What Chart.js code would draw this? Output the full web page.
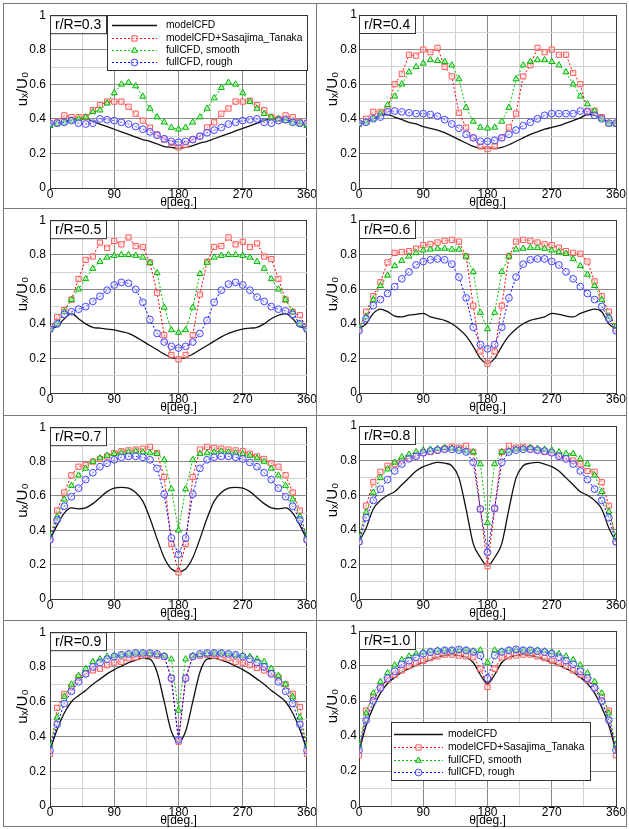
<!DOCTYPE html>
<html><head><meta charset="utf-8">
<script src="https://cdn.jsdelivr.net/npm/chart.js@4.4.1/dist/chart.umd.min.js"></script>
<style>
html,body{margin:0;padding:0;background:#fff;}
body{width:629px;height:829px;position:relative;overflow:hidden;}
.ln{position:absolute;background:#7a7a7a;}
canvas{position:absolute;}
</style></head><body>
<div class="ln" style="left:3px;top:3px;width:624px;height:1px"></div>
<div class="ln" style="left:3px;top:826px;width:624px;height:1px"></div>
<div class="ln" style="left:3px;top:3px;width:1px;height:824px"></div>
<div class="ln" style="left:626px;top:3px;width:1px;height:824px"></div>
<div class="ln" style="left:316px;top:3px;width:1px;height:824px"></div>
<div class="ln" style="left:3px;top:208px;width:624px;height:1px"></div>
<div class="ln" style="left:3px;top:415px;width:624px;height:1px"></div>
<div class="ln" style="left:3px;top:620px;width:624px;height:1px"></div>
<script>
// ---------- DATA ----------
const theta = [0,10,20,30,40,50,60,70,80,90,100,110,120,130,140,150,160,170,180,190,200,210,220,230,240,250,260,270,280,290,300,310,320,330,340,350,360];
const xTickLabels = [0,90,180,270,360];
const yTickLabels = [0,0.2,0.4,0.6,0.8,1];
const seriesNames = ['modelCFD','modelCFD+Sasajima_Tanaka','fullCFD, smooth','fullCFD, rough'];
const panelLabels = ['r/R=0.3','r/R=0.4','r/R=0.5','r/R=0.6','r/R=0.7','r/R=0.8','r/R=0.9','r/R=1.0'];

const model03 = [0.37,0.375,0.385,0.395,0.40,0.40,0.385,0.37,0.355,0.34,0.325,0.31,0.295,0.28,0.27,0.255,0.24,0.235,0.23,0.235,0.245,0.26,0.27,0.285,0.30,0.315,0.33,0.345,0.36,0.375,0.39,0.40,0.40,0.395,0.385,0.375,0.37];
const st03 = [0.37,0.38,0.42,0.41,0.41,0.41,0.45,0.48,0.50,0.50,0.50,0.47,0.43,0.39,0.35,0.31,0.28,0.26,0.235,0.25,0.28,0.30,0.35,0.38,0.43,0.46,0.50,0.50,0.505,0.48,0.45,0.41,0.40,0.42,0.41,0.38,0.37];
const smooth03 = [0.36,0.37,0.38,0.39,0.40,0.41,0.44,0.45,0.49,0.55,0.60,0.61,0.59,0.53,0.46,0.41,0.38,0.35,0.34,0.35,0.38,0.41,0.46,0.52,0.58,0.61,0.60,0.55,0.50,0.46,0.43,0.41,0.40,0.39,0.38,0.37,0.36];
const rough03 = [0.375,0.375,0.38,0.39,0.375,0.37,0.375,0.40,0.395,0.39,0.38,0.37,0.355,0.34,0.325,0.305,0.285,0.27,0.265,0.27,0.28,0.30,0.32,0.335,0.35,0.37,0.38,0.39,0.395,0.40,0.38,0.375,0.39,0.395,0.38,0.375,0.375];

const model04 = [0.37,0.38,0.40,0.42,0.425,0.41,0.395,0.38,0.37,0.355,0.345,0.335,0.32,0.30,0.28,0.26,0.24,0.23,0.23,0.23,0.235,0.25,0.27,0.29,0.31,0.325,0.34,0.35,0.36,0.375,0.39,0.405,0.425,0.42,0.40,0.38,0.37];
const st04 = [0.37,0.40,0.44,0.44,0.455,0.60,0.66,0.77,0.765,0.80,0.785,0.81,0.70,0.645,0.435,0.35,0.29,0.24,0.225,0.24,0.29,0.35,0.43,0.645,0.71,0.81,0.785,0.80,0.77,0.77,0.665,0.60,0.445,0.445,0.41,0.375,0.37];
const smooth04 = [0.37,0.38,0.40,0.43,0.48,0.53,0.60,0.67,0.70,0.72,0.74,0.735,0.73,0.71,0.63,0.465,0.385,0.35,0.345,0.35,0.385,0.465,0.63,0.71,0.73,0.74,0.74,0.73,0.71,0.67,0.60,0.53,0.485,0.445,0.40,0.37,0.37];
const rough04 = [0.375,0.38,0.40,0.41,0.44,0.445,0.44,0.435,0.43,0.43,0.425,0.415,0.395,0.37,0.345,0.31,0.29,0.27,0.27,0.275,0.29,0.31,0.335,0.36,0.38,0.40,0.42,0.43,0.43,0.43,0.43,0.445,0.44,0.42,0.40,0.375,0.375];

const model05 = [0.37,0.385,0.43,0.46,0.43,0.40,0.38,0.375,0.37,0.365,0.355,0.345,0.325,0.30,0.275,0.25,0.225,0.205,0.20,0.205,0.225,0.25,0.275,0.30,0.325,0.345,0.36,0.37,0.375,0.38,0.40,0.43,0.45,0.46,0.43,0.385,0.37];
const st05 = [0.37,0.44,0.48,0.54,0.66,0.77,0.79,0.87,0.84,0.88,0.86,0.90,0.85,0.845,0.755,0.58,0.335,0.22,0.195,0.22,0.335,0.57,0.76,0.845,0.85,0.90,0.86,0.875,0.845,0.865,0.79,0.775,0.66,0.54,0.47,0.45,0.37];
const smooth05 = [0.37,0.40,0.47,0.54,0.60,0.66,0.72,0.76,0.785,0.795,0.80,0.80,0.795,0.785,0.755,0.695,0.495,0.365,0.35,0.365,0.495,0.69,0.755,0.785,0.795,0.80,0.80,0.795,0.785,0.76,0.72,0.66,0.60,0.54,0.47,0.40,0.37];
const rough05 = [0.37,0.40,0.455,0.47,0.485,0.50,0.53,0.56,0.595,0.625,0.64,0.635,0.60,0.525,0.425,0.345,0.295,0.27,0.26,0.27,0.295,0.345,0.42,0.525,0.595,0.63,0.64,0.625,0.595,0.555,0.53,0.50,0.485,0.475,0.455,0.40,0.37];

const model06 = [0.37,0.40,0.46,0.485,0.47,0.445,0.44,0.45,0.455,0.46,0.44,0.43,0.42,0.40,0.37,0.33,0.27,0.20,0.17,0.20,0.27,0.33,0.37,0.40,0.42,0.43,0.44,0.46,0.455,0.445,0.44,0.46,0.475,0.485,0.47,0.40,0.37];
const st06 = [0.37,0.47,0.56,0.64,0.755,0.81,0.815,0.82,0.835,0.855,0.86,0.87,0.88,0.885,0.875,0.79,0.505,0.24,0.17,0.24,0.505,0.79,0.875,0.885,0.88,0.87,0.86,0.855,0.84,0.82,0.81,0.805,0.76,0.645,0.56,0.47,0.37];
const smooth06 = [0.38,0.44,0.54,0.62,0.68,0.735,0.765,0.79,0.81,0.825,0.83,0.835,0.835,0.83,0.83,0.79,0.70,0.465,0.37,0.465,0.70,0.79,0.83,0.835,0.84,0.84,0.835,0.825,0.815,0.805,0.775,0.735,0.685,0.62,0.54,0.44,0.385];
const rough06 = [0.36,0.43,0.505,0.54,0.575,0.615,0.66,0.70,0.74,0.76,0.77,0.775,0.77,0.745,0.67,0.55,0.38,0.28,0.255,0.28,0.38,0.55,0.67,0.745,0.77,0.775,0.775,0.76,0.74,0.70,0.66,0.615,0.575,0.54,0.50,0.43,0.36];

const model07 = [0.345,0.43,0.50,0.53,0.525,0.53,0.555,0.59,0.625,0.645,0.65,0.645,0.62,0.57,0.47,0.35,0.24,0.175,0.16,0.175,0.24,0.35,0.47,0.57,0.62,0.645,0.65,0.645,0.625,0.59,0.555,0.53,0.525,0.53,0.50,0.43,0.345];
const st07 = [0.345,0.515,0.62,0.72,0.77,0.78,0.80,0.815,0.83,0.85,0.86,0.865,0.87,0.875,0.885,0.85,0.71,0.32,0.155,0.32,0.71,0.87,0.885,0.88,0.875,0.87,0.865,0.86,0.845,0.83,0.815,0.79,0.77,0.72,0.62,0.515,0.345];
const smooth07 = [0.37,0.48,0.58,0.66,0.72,0.76,0.80,0.82,0.835,0.845,0.85,0.855,0.86,0.855,0.85,0.845,0.81,0.64,0.40,0.64,0.81,0.845,0.85,0.855,0.86,0.855,0.85,0.845,0.835,0.82,0.80,0.76,0.72,0.66,0.58,0.48,0.37];
const rough07 = [0.345,0.46,0.54,0.595,0.645,0.695,0.735,0.77,0.79,0.81,0.825,0.83,0.83,0.825,0.81,0.76,0.61,0.355,0.26,0.355,0.61,0.76,0.81,0.825,0.83,0.83,0.825,0.815,0.795,0.77,0.735,0.695,0.645,0.595,0.54,0.46,0.345];

const model08 = [0.33,0.41,0.52,0.57,0.60,0.62,0.66,0.70,0.74,0.765,0.78,0.79,0.785,0.77,0.70,0.52,0.32,0.24,0.19,0.24,0.32,0.52,0.70,0.77,0.785,0.79,0.78,0.765,0.74,0.70,0.66,0.62,0.60,0.57,0.52,0.41,0.33];
const st08 = [0.33,0.54,0.675,0.735,0.77,0.78,0.80,0.815,0.83,0.845,0.85,0.86,0.87,0.88,0.875,0.885,0.85,0.52,0.19,0.52,0.85,0.885,0.875,0.88,0.87,0.86,0.85,0.845,0.83,0.815,0.80,0.78,0.74,0.735,0.675,0.54,0.33];
const smooth08 = [0.36,0.50,0.615,0.70,0.75,0.79,0.82,0.835,0.85,0.86,0.865,0.87,0.875,0.87,0.865,0.855,0.85,0.78,0.44,0.78,0.85,0.855,0.865,0.87,0.875,0.87,0.865,0.86,0.85,0.84,0.84,0.81,0.78,0.715,0.62,0.505,0.36];
const rough08 = [0.33,0.47,0.57,0.635,0.69,0.74,0.78,0.81,0.825,0.845,0.855,0.86,0.865,0.865,0.86,0.85,0.79,0.52,0.27,0.525,0.79,0.85,0.86,0.865,0.865,0.86,0.855,0.845,0.825,0.81,0.78,0.74,0.69,0.635,0.57,0.47,0.33];

const model09 = [0.32,0.44,0.535,0.60,0.635,0.665,0.70,0.73,0.76,0.785,0.805,0.825,0.84,0.85,0.845,0.77,0.60,0.43,0.37,0.43,0.60,0.77,0.845,0.85,0.84,0.825,0.805,0.785,0.76,0.73,0.70,0.665,0.635,0.60,0.535,0.44,0.32];
const st09 = [0.30,0.565,0.645,0.685,0.74,0.76,0.78,0.79,0.81,0.825,0.83,0.85,0.855,0.865,0.87,0.865,0.86,0.735,0.37,0.735,0.86,0.865,0.87,0.865,0.855,0.85,0.83,0.825,0.81,0.795,0.78,0.765,0.74,0.70,0.645,0.57,0.30];
const smooth09 = [0.35,0.51,0.63,0.70,0.75,0.79,0.83,0.845,0.86,0.865,0.87,0.875,0.88,0.88,0.875,0.87,0.865,0.845,0.55,0.845,0.865,0.87,0.875,0.88,0.88,0.875,0.87,0.865,0.86,0.845,0.83,0.79,0.75,0.70,0.63,0.51,0.35];
const rough09 = [0.32,0.47,0.59,0.66,0.715,0.76,0.80,0.825,0.845,0.86,0.87,0.875,0.88,0.88,0.88,0.875,0.86,0.735,0.38,0.735,0.86,0.875,0.88,0.88,0.88,0.875,0.87,0.86,0.845,0.825,0.80,0.76,0.715,0.66,0.59,0.47,0.32];

const model10 = [0.31,0.46,0.565,0.645,0.70,0.735,0.765,0.785,0.805,0.82,0.835,0.85,0.86,0.865,0.86,0.85,0.82,0.75,0.70,0.75,0.82,0.85,0.86,0.865,0.86,0.85,0.835,0.82,0.805,0.785,0.765,0.735,0.70,0.645,0.565,0.46,0.31];
const st10 = [0.29,0.545,0.625,0.675,0.72,0.75,0.775,0.80,0.815,0.83,0.845,0.855,0.865,0.865,0.86,0.855,0.85,0.785,0.68,0.785,0.85,0.855,0.86,0.865,0.865,0.855,0.845,0.83,0.815,0.80,0.775,0.75,0.72,0.675,0.625,0.545,0.29];
const smooth10 = [0.35,0.53,0.645,0.71,0.76,0.805,0.835,0.855,0.87,0.88,0.885,0.89,0.89,0.89,0.89,0.89,0.885,0.89,0.82,0.89,0.885,0.89,0.89,0.89,0.89,0.89,0.885,0.88,0.87,0.855,0.835,0.805,0.76,0.71,0.645,0.53,0.35];
const rough10 = [0.32,0.49,0.60,0.675,0.73,0.77,0.81,0.83,0.85,0.87,0.88,0.885,0.89,0.89,0.895,0.89,0.88,0.86,0.73,0.86,0.88,0.89,0.895,0.89,0.89,0.885,0.88,0.87,0.85,0.83,0.81,0.77,0.73,0.675,0.60,0.49,0.32];

// ---------- STYLE / LAYOUT ----------
const FONT = '"Liberation Sans", Arial, Helvetica, sans-serif';
Chart.defaults.font.family = FONT;
Chart.defaults.color = '#000';

const STYLES = [
  {color:'#111111', width:1.3, dash:[], style:false},
  {color:'#ff0000', width:1, dash:[2,2], style:'rect', r:3.7, mStroke:'#ff5a5a', mFill:'rgba(255,230,230,0.5)'},
  {color:'#00c800', width:1, dash:[2,2], style:'triangle', r:3.5, mStroke:'#00b400', mFill:'rgba(180,255,180,0.6)'},
  {color:'#0000ff', width:1, dash:[2,2], style:'circle', r:3.4, mStroke:'#4848ff', mFill:'rgba(225,225,255,0.4)'}
];

const COLS = [{L:4,W:312,pl:50,pr:307,tickPad:4,titlePad:10},{L:317,W:310,pl:359,pr:616,tickPad:2,titlePad:7}];
const ROWS = [{T:4,pt:15,pb:188},{T:209,pt:220,pb:393},{T:416,pt:426,pb:599},{T:621,pt:631,pb:806}];
const XH = 22;

const panels = [
  {label:panelLabels[0], data:[model03,st03,smooth03,rough03], col:0,row:0, legend:'top'},
  {label:panelLabels[1], data:[model04,st04,smooth04,rough04], col:1,row:0},
  {label:panelLabels[2], data:[model05,st05,smooth05,rough05], col:0,row:1},
  {label:panelLabels[3], data:[model06,st06,smooth06,rough06], col:1,row:1},
  {label:panelLabels[4], data:[model07,st07,smooth07,rough07], col:0,row:2},
  {label:panelLabels[5], data:[model08,st08,smooth08,rough08], col:1,row:2},
  {label:panelLabels[6], data:[model09,st09,smooth09,rough09], col:0,row:3},
  {label:panelLabels[7], data:[model10,st10,smooth10,rough10], col:1,row:3, legend:'bottom'}
];

function marker(ctx, st, x, y){
  ctx.save();
  ctx.setLineDash([]);
  ctx.lineWidth = 1;
  ctx.strokeStyle = st.mStroke; ctx.fillStyle = st.mFill;
  ctx.beginPath();
  const r = st.r;
  if (st.style==='rect'){ const s = r*Math.SQRT1_2; ctx.rect(x-s,y-s,2*s,2*s); }
  else if (st.style==='triangle'){ ctx.moveTo(x, y-r); ctx.lineTo(x+0.866*r, y+0.5*r); ctx.lineTo(x-0.866*r, y+0.5*r); ctx.closePath(); }
  else { ctx.arc(x,y,r,0,Math.PI*2); }
  ctx.fill(); ctx.stroke();
  ctx.restore();
}

const deco = {
  id:'deco',
  afterDatasetsDraw(chart, args, opts){
    const {ctx, chartArea:a} = chart;
    ctx.save();
    ctx.fillStyle='#fff';
    ctx.fillRect(a.left+1, a.top+1, 55, 17);
    ctx.strokeStyle='#333'; ctx.lineWidth=1; ctx.setLineDash([]);
    ctx.strokeRect(a.left+0.5, a.top+0.5, 56, 18);
    ctx.fillStyle='#000'; ctx.textBaseline='middle'; ctx.textAlign='left';
    ctx.font = '14px '+FONT;
    ctx.fillText(opts.label, a.left+5, a.top+10);
    if (opts.legend){
      let b;
      if (opts.legend==='top') b = {x:a.right-200, y:a.top, w:200, h:55, rows:[10,22.5,35,47], l0:5, l1:50, tx:59};
      else b = {x:a.left+32, y:a.top+91, w:199, h:58, rows:[12,24.7,38,49.7], l0:3, l1:52, tx:57};
      ctx.fillStyle='#fff';
      ctx.fillRect(b.x, b.y, b.w, b.h);
      ctx.strokeStyle='#333';
      ctx.strokeRect(Math.round(b.x)+0.5, Math.round(b.y)+0.5, b.w, b.h);
      ctx.font = '10.3px '+FONT;
      for (let i=0;i<4;i++){
        const st = STYLES[i];
        const yy = Math.round(b.y + b.rows[i]) + 0.5;
        ctx.save();
        ctx.strokeStyle = st.color; ctx.lineWidth = st.width; ctx.setLineDash(st.dash);
        ctx.beginPath(); ctx.moveTo(b.x+b.l0, yy); ctx.lineTo(b.x+b.l1, yy); ctx.stroke();
        ctx.restore();
        if (st.style) marker(ctx, st, b.x+(b.l0+b.l1)/2, yy);
        ctx.fillStyle='#000';
        ctx.fillText(seriesNames[i], b.x+b.tx, yy);
      }
    }
    ctx.restore();
  }
};

function gridCol(isEdge, isMajor){ return isEdge ? '#3a3a3a' : (isMajor ? '#8a8a8a' : '#d2d2d2'); }

panels.forEach(p=>{
  const col = COLS[p.col], row = ROWS[p.row];
  const H = row.pb + XH - row.T;
  const cv = document.createElement('canvas');
  cv.width = col.W; cv.height = H;
  cv.style.left = col.L+'px'; cv.style.top = row.T+'px';
  cv.style.width = col.W+'px'; cv.style.height = H+'px';
  document.body.appendChild(cv);
  const datasets = p.data.map((ys,i)=>{
    const st = STYLES[i];
    return {
      label: seriesNames[i],
      data: ys.map((y,k)=>({x:theta[k], y:y})),
      borderColor: st.color, borderWidth: st.width, borderDash: st.dash,
      pointRadius: st.style ? st.r : 0,
      pointStyle: st.style || 'circle',
      pointBorderColor: st.mStroke, pointBackgroundColor: st.mFill, pointBorderWidth: 1,
      cubicInterpolationMode: i===0 ? 'monotone' : 'default',
      fill:false, order: 3-i
    };
  });
  new Chart(cv, {
    type:'line',
    data:{datasets},
    options:{
      responsive:false, animation:false, devicePixelRatio:1,
      events:[],
      layout:{padding:{left:0, right: col.L+col.W-col.pr, top: row.pt-row.T, bottom:0}},
      plugins:{legend:{display:false}, tooltip:{enabled:false}, deco:{label:p.label, legend:p.legend||null}},
      scales:{
        x:{type:'linear', min:0, max:360,
           ticks:{stepSize:45, autoSkip:false, maxRotation:0, padding:-1, font:{size:12}, color:'#000',
                  callback:(v)=> xTickLabels.includes(v) ? String(v) : ''},
           grid:{drawTicks:false, color:(c)=>{const v=c.tick.value; return gridCol(v===0||v===360, v%90===0);}},
           border:{display:true, color:'#3a3a3a'},
           title:{display:true, text:'θ[deg.]', font:{size:12}, color:'#000', padding:{top:0,bottom:0}},
           afterFit:(s)=>{ s.height = XH; }},
        y:{type:'linear', min:0, max:1,
           ticks:{stepSize:0.1, autoSkip:false, padding:col.tickPad, font:{size:12}, color:'#000',
                  callback:(v)=>{ const r=Math.round(v*10)/10; return yTickLabels.includes(r) ? String(r) : ''; }},
           grid:{drawTicks:false, color:(c)=>{const r=Math.round(c.tick.value*10); return gridCol(r===0||r===10, r%2===0);}},
           border:{display:true, color:'#3a3a3a'},
           title:{display:true, text:'\u00a0\u00a0\u00a0\u00a0\u00a0\u00a0uₓ/U₀', font:{size:15}, color:'#000', padding:{top:col.titlePad,bottom:0}},
           afterFit:(s)=>{ s.width = col.pl - col.L; }}
      }
    },
    plugins:[deco]
  });
});
</script>
</body></html>
